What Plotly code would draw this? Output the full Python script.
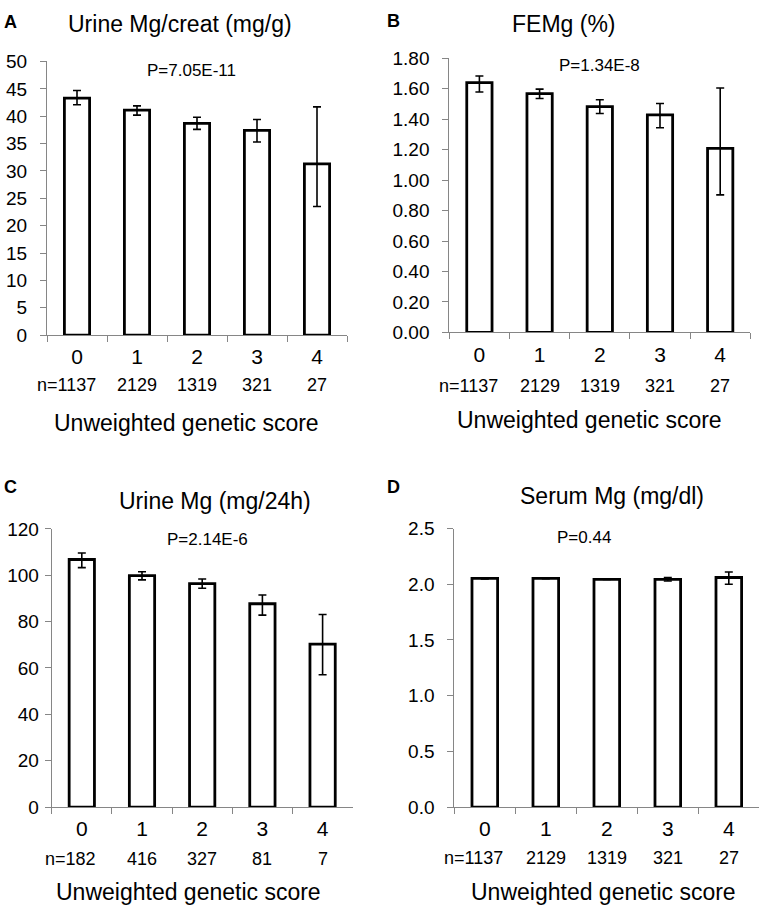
import plotly.graph_objects as go

categories = ["0", "1", "2", "3", "4"]

# Panel A: Urine Mg/creat (mg/g)
a_vals = [43.3, 41.1, 38.7, 37.4, 31.3]
a_err_plus = [1.4, 0.8, 1.1, 2.0, 10.4]
a_err_minus = [1.2, 0.9, 1.1, 2.1, 7.8]
a_n = ["n=1137", "2129", "1319", "321", "27"]

# Panel B: FEMg (%)
b_vals = [1.64, 1.567, 1.482, 1.428, 1.208]
b_err_plus = [0.043, 0.030, 0.045, 0.075, 0.396]
b_err_minus = [0.062, 0.032, 0.045, 0.085, 0.305]
b_n = ["n=1137", "2129", "1319", "321", "27"]

# Panel C: Urine Mg (mg/24h)
c_vals = [106.8, 99.8, 96.4, 87.7, 70.3]
c_err_plus = [2.8, 1.7, 2.0, 3.8, 12.8]
c_err_minus = [3.5, 1.8, 2.0, 4.9, 13.2]
c_n = ["n=182", "416", "327", "81", "7"]

# Panel D: Serum Mg (mg/dl)
d_vals = [2.053, 2.053, 2.045, 2.045, 2.061]
d_err_plus = [0.004, 0.002, 0.002, 0.015, 0.05]
d_err_minus = [0.004, 0.002, 0.002, 0.015, 0.06]
d_n = ["n=1137", "2129", "1319", "321", "27"]

titles = ["Urine Mg/creat (mg/g)", "FEMg (%)", "Urine Mg (mg/24h)", "Serum Mg (mg/dl)"]
pvals = ["P=7.05E-11", "P=1.34E-8", "P=2.14E-6", "P=0.44"]
letters = ["A", "B", "C", "D"]
xtitle = "Unweighted genetic score"

W, H = 762, 921
FONT = "Liberation Sans"
AXC = "#868686"

def px(x):
    return x / W

def py(y):
    return 1 - y / H

panels = [
    dict(vals=a_vals, ep=a_err_plus, em=a_err_minus, n=a_n, rng=[0, 50], dt=5, fmt="",
         xd=[47, 347], yd=[52.7, 332.7], title=(180, 14), p=(191, 62), let=(10, 12),
         xt=(186, 423), ny=384),
    dict(vals=b_vals, ep=b_err_plus, em=b_err_minus, n=b_n, rng=[0, 1.8], dt=0.2, fmt=".2f",
         xd=[449.3, 750.3], yd=[49.3, 330], title=(564, 14), p=(599, 57), let=(393, 11),
         xt=(589, 420), ny=385),
    dict(vals=c_vals, ep=c_err_plus, em=c_err_minus, n=c_n, rng=[0, 120], dt=20, fmt="",
         xd=[51.7, 352.7], yd=[531, 815.7], title=(215, 502), p=(207, 542), let=(10, 488),
         xt=(188, 903), ny=869),
    dict(vals=d_vals, ep=d_err_plus, em=d_err_minus, n=d_n, rng=[0, 2.5], dt=0.5, fmt=".1f",
         xd=[454.3, 759.3], yd=[530.7, 815.7], title=(612, 497), p=(584, 540), let=(393, 488),
         xt=(603.5, 903), ny=868),
]

fig = go.Figure()
annotations = []
layout = {}

for i, p in enumerate(panels):
    k = "" if i == 0 else str(i + 1)
    fig.add_trace(go.Bar(
        x=categories, y=p["vals"],
        xaxis="x" + k, yaxis="y" + k,
        width=0.42,
        marker=dict(color="white", line=dict(color="black", width=2.8)),
        error_y=dict(type="data", symmetric=False, array=p["ep"], arrayminus=p["em"],
                     color="black", thickness=1.6, width=4),
        showlegend=False,
        hoverinfo="skip",
    ))
    layout["xaxis" + k] = dict(
        domain=[px(p["xd"][0]), px(p["xd"][1])], anchor="y" + k,
        type="category", range=[-0.5, 4.5],
        showline=True, linecolor=AXC, linewidth=1,
        ticks="outside", tickson="boundaries", ticklen=6, tickcolor=AXC, tickwidth=1,
        showgrid=False, zeroline=False,
        tickfont=dict(family=FONT, size=21, color="black"),
        ticklabelstandoff=3,
    )
    layout["yaxis" + k] = dict(
        domain=[py(p["yd"][1]), py(p["yd"][0])], anchor="x" + k,
        range=p["rng"], dtick=p["dt"], tick0=0, tickformat=p["fmt"],
        showline=True, linecolor=AXC, linewidth=1,
        ticks="outside", ticklen=6, tickcolor=AXC, tickwidth=1,
        showgrid=False, zeroline=False,
        tickfont=dict(family=FONT, size=19, color="black"),
        ticklabelstandoff=9 if i != 2 else 2,
    )
    annotations.append(dict(text=titles[i], x=px(p["title"][0]), y=py(p["title"][1]),
                            xref="paper", yref="paper", showarrow=False,
                            xanchor="center", yanchor="middle",
                            font=dict(family=FONT, size=23, color="black")))
    annotations.append(dict(text=pvals[i], x=px(p["p"][0]), y=py(p["p"][1]),
                            xref="paper", yref="paper", showarrow=False,
                            xanchor="center", yanchor="middle",
                            font=dict(family=FONT, size=17, color="black")))
    annotations.append(dict(text="<b>" + letters[i] + "</b>", x=px(p["let"][0]), y=py(p["let"][1]),
                            xref="paper", yref="paper", showarrow=False,
                            xanchor="center", yanchor="middle",
                            font=dict(family=FONT, size=18, color="black")))
    annotations.append(dict(text=xtitle, x=px(p["xt"][0]), y=py(p["xt"][1]),
                            xref="paper", yref="paper", showarrow=False,
                            xanchor="center", yanchor="middle",
                            font=dict(family=FONT, size=23, color="black")))
    for j, lab in enumerate(p["n"]):
        annotations.append(dict(text=lab, x=categories[j], y=py(p["ny"]),
                                xref="x" + k, yref="paper", showarrow=False,
                                xanchor="center", yanchor="middle",
                                xshift=-11 if j == 0 else 0,
                                font=dict(family=FONT, size=18, color="black")))

fig.update_layout(
    width=W, height=H,
    margin=dict(l=0, r=0, t=0, b=0),
    paper_bgcolor="white", plot_bgcolor="white",
    annotations=annotations,
    hovermode=False,
    **layout,
)

fig.write_html(
    "out.html",
    config={"displayModeBar": False, "staticPlot": True},
    post_script="document.body.style.margin='0';document.documentElement.style.overflow='hidden';document.body.style.overflow='hidden';",
)
